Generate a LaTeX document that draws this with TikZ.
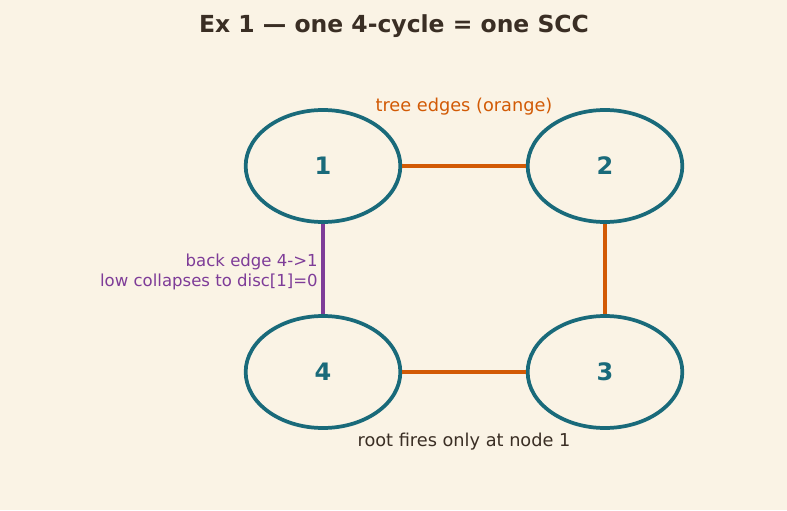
\documentclass[tikz,border=0pt]{standalone}
\usepackage{fontspec}
\setmainfont{DejaVu Sans}
\usetikzlibrary{shapes.geometric, positioning}
\definecolor{paperc}{RGB}{250,243,229}
\definecolor{nodec}{RGB}{25,106,122}
\definecolor{treec}{RGB}{210,90,5}
\definecolor{backc}{RGB}{126,60,152}
\definecolor{inkc}{RGB}{58,46,36}
\tikzset{
  vert/.style={
    ellipse, draw=nodec, line width=2.8pt, fill=paperc,
    minimum width=116pt, minimum height=84pt, inner sep=0pt,
    font=\fontsize{18}{21}\selectfont\bfseries, text=nodec
  },
  tree/.style={draw=treec, line width=2.4pt},
  back/.style={draw=backc, line width=2.4pt},
  lbl/.style={font=\fontsize{13.3}{15}\selectfont, inner sep=0pt},
}
\begin{document}
\begin{tikzpicture}[x=0.75pt, y=-0.75pt]
  \fill[paperc] (0,0) rectangle (787,510);
  \useasboundingbox (0,0) rectangle (787,510);
  % title
  \node[font=\fontsize{17.6}{21}\selectfont\bfseries, text=inkc] (title) at (394,26) {Ex 1 — one 4-cycle = one SCC};
  % the four vertices
  \node[vert] (n1) at (323,166) {1};
  \node[vert] (n2) at (605,166) {2};
  \node[vert] (n3) at (605,372) {3};
  \node[vert] (n4) at (323,372) {4};
  % edges
  \draw[tree] (n1) -- (n2);
  \draw[tree] (n2) -- (n3);
  \draw[tree] (n3) -- (n4);
  \draw[back] (n4) -- (n1);
  % notes
  \node[lbl, text=treec] (treelbl) at (464,107) {tree edges (orange)};
  \node[lbl, text=backc, align=right, anchor=east, font=\fontsize{12.4}{15}\selectfont] (backlbl) at (318,272)
    {back edge 4->1\\low collapses to disc[1]=0};
  \node[lbl, text=inkc] (rootlbl) at (464,442) {root fires only at node 1};
\end{tikzpicture}
\end{document}
